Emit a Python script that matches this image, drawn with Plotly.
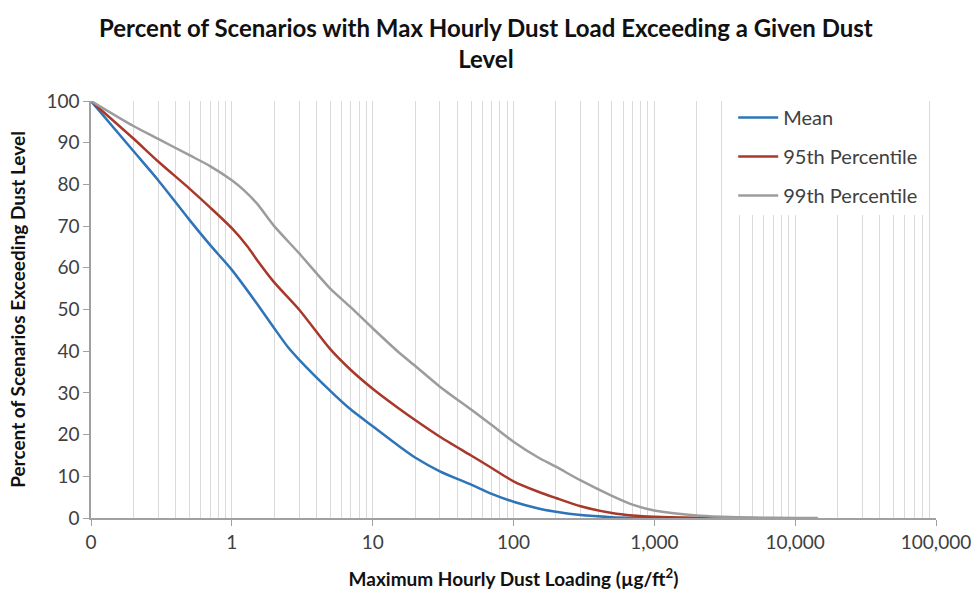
import plotly.graph_objects as go

# Dust loading levels (ug/ft^2) and percent of scenarios exceeding each level
mean_x = [0.1, 0.2, 0.3, 0.5, 0.7, 1, 1.5, 2, 2.5, 3, 5, 7, 10, 15, 20, 30, 50, 70, 100, 150, 200, 300, 500, 700, 1000]
mean_y = [100, 88, 81, 71.5, 65.5, 59.5, 51.5, 45.5, 41, 38, 30.5, 26, 22, 17.5, 14.5, 11.2, 8, 5.8, 3.9, 2.3, 1.5, 0.7, 0.2, 0.05, 0]

p95_x = [0.1, 0.2, 0.3, 0.5, 0.7, 1, 1.3, 1.5, 2, 3, 5, 7, 10, 15, 20, 30, 50, 70, 100, 150, 200, 300, 500, 700, 1000, 2000, 3800]
p95_y = [100, 91, 85.5, 79, 74.5, 69.5, 65, 62, 56.5, 50, 40.5, 35.5, 31, 26.5, 23.5, 19.5, 15, 12, 8.8, 6.3, 4.8, 2.8, 1.2, 0.6, 0.3, 0.08, 0]

p99_x = [0.1, 0.2, 0.3, 0.5, 0.7, 1, 1.2, 1.5, 2, 3, 5, 7, 10, 15, 20, 30, 50, 70, 100, 150, 200, 300, 500, 700, 1000, 2000, 3000, 5000, 10000, 14500]
p99_y = [100, 94, 90.9, 87, 84.4, 81, 78.8, 75.5, 70, 63.5, 55, 50.5, 45.5, 40, 36.5, 31.5, 26, 22.3, 18.3, 14.5, 12.3, 9, 5.3, 3.2, 1.8, 0.6, 0.3, 0.1, 0.02, 0]

x_tickvals = [0.1, 1, 10, 100, 1000, 10000, 100000]
x_ticktext = ["0", "1", "10", "100", "1,000", "10,000", "100,000"]
y_tickvals = [0, 10, 20, 30, 40, 50, 60, 70, 80, 90, 100]

# minor grid positions: 2..9 within each decade
minor_vals = [k * 10.0 ** e for e in range(-1, 5) for k in range(2, 10)]

series = [
    ("Mean", mean_x, mean_y, "#2e74b8"),
    ("95th Percentile", p95_x, p95_y, "#a8382a"),
    ("99th Percentile", p99_x, p99_y, "#9c9c9c"),
]

fig = go.Figure()
for i, (name, xs, ys, color) in enumerate(series):
    fig.add_trace(go.Scatter(
        x=xs, y=ys, name=name, mode="lines",
        line=dict(color=color, width=2.5, shape="spline", smoothing=0.7),
        legendgroup=f"g{i}",
    ))

FONT = "Lato, Open Sans, sans-serif"
fig.update_layout(
    width=973, height=591,
    paper_bgcolor="white", plot_bgcolor="white",
    margin=dict(l=91, r=37, t=101, b=73),
    font=dict(family=FONT, size=19, color="#595959"),
    showlegend=True,
    legend=dict(
        x=0.76, y=1.007, xanchor="left", yanchor="top",
        bgcolor="white", borderwidth=0,
        font=dict(family=FONT, size=20, color="#404040"),
        tracegroupgap=10, traceorder="grouped",
        itemwidth=40,
    ),
    annotations=[dict(
        text="<b>Percent of Scenarios with Max Hourly Dust Load Exceeding a Given Dust<br>Level</b>",
        xref="paper", yref="paper", x=(486 - 91) / 845, y=1 + (101 - 43) / 417,
        xanchor="center", yanchor="middle", showarrow=False,
        font=dict(family=FONT, size=24, color="#111111"),
    )],
)

fig.update_xaxes(
    type="log", range=[-1, 5], automargin=False,
    tickmode="array", tickvals=x_tickvals, ticktext=x_ticktext,
    ticks="outside", ticklen=6, tickcolor="#a0a0a0",
    showline=True, linecolor="#a0a0a0", linewidth=1.5,
    showgrid=True, gridcolor="#dadada", gridwidth=1.3,
    minor=dict(tickmode="array", tickvals=minor_vals, showgrid=True,
               gridcolor="#dadada", gridwidth=1.3, ticks=""),
    zeroline=False,
    tickfont=dict(family=FONT, size=19, color="#404040"),
    title=dict(text="<b>Maximum Hourly Dust Loading (µg/ft<sup>2</sup>)</b>",
               font=dict(family=FONT, size=19, color="#111111"), standoff=21),
)
fig.update_yaxes(
    range=[0, 100], tickmode="array", tickvals=y_tickvals, automargin=False,
    ticks="outside", ticklen=6, tickcolor="#a0a0a0",
    showline=True, linecolor="#a0a0a0", linewidth=1.5,
    showgrid=False, zeroline=False,
    tickfont=dict(family=FONT, size=19, color="#404040"),
    title=dict(text="<b>Percent of Scenarios Exceeding Dust Level</b>",
               font=dict(family=FONT, size=19, color="#111111"), standoff=16),
)

fig.write_html("out.html")
